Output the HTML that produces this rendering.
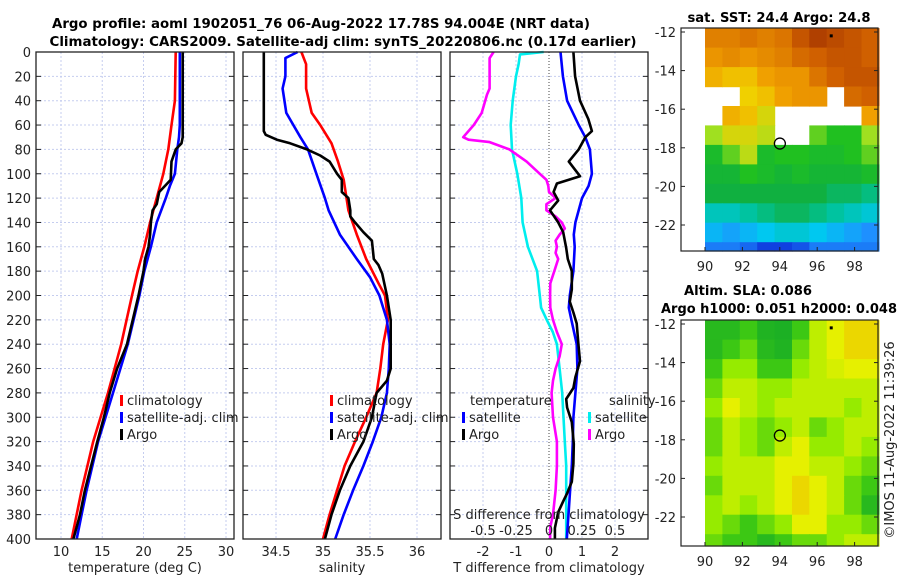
<!DOCTYPE html>
<html><head><meta charset="utf-8">
<style>
html,body{margin:0;padding:0;background:#fff;}
svg{display:block;font-family:"DejaVu Sans","Liberation Sans",sans-serif;}
</style></head>
<body>
<svg id="fig" width="900" height="580" viewBox="0 0 900 580" xmlns="http://www.w3.org/2000/svg">
<rect x="0" y="0" width="900" height="580" fill="#fff"/>
<text x="321" y="28" text-anchor="middle" font-size="13" font-weight="bold" fill="#000" textLength="538" lengthAdjust="spacingAndGlyphs">Argo profile: aoml 1902051_76 06-Aug-2022 17.78S 94.004E (NRT data)</text>
<text x="343" y="46" text-anchor="middle" font-size="13" font-weight="bold" fill="#000" textLength="587" lengthAdjust="spacingAndGlyphs">Climatology: CARS2009. Satellite-adj clim: synTS_20220806.nc (0.17d earlier)</text>
<text x="779" y="22" text-anchor="middle" font-size="13" font-weight="bold" fill="#000" textLength="183" lengthAdjust="spacingAndGlyphs">sat. SST: 24.4 Argo: 24.8</text>
<text x="748" y="295" text-anchor="middle" font-size="13" font-weight="bold" fill="#000" textLength="128" lengthAdjust="spacingAndGlyphs">Altim. SLA: 0.086</text>
<text x="779" y="313" text-anchor="middle" font-size="13" font-weight="bold" fill="#000" textLength="236" lengthAdjust="spacingAndGlyphs">Argo h1000: 0.051 h2000: 0.048</text>
<text x="0" y="0" transform="translate(894,440) rotate(-90)" text-anchor="middle" font-size="13" fill="#222">©IMOS 11-Aug-2022 11:39:26</text>
<g id="g"></g>
</svg>
<script>
// ---------- data ----------
const depthTicks = [0,20,40,60,80,100,120,140,160,180,200,220,240,260,280,300,320,340,360,380,400];
const tempTicks = [10,15,20,25,30];
const salTicks = [34.5,35,35.5,36];
const salTickLabels = ["34.5","35","35.5","36"];
const tdiffTicks = [-2,-1,0,1,2];
const sdiffTicks = [-0.5,-0.25,0,0.25,0.5];
const sdiffTickLabels = ["-0.5","-0.25","0","0.25","0.5"];

const tClimDepth = [0,40,60,80,100,120,140,160,180,200,240,280,320,360,400];
const tClimVal   = [23.9,23.8,23.4,23.0,22.4,21.6,20.8,20.1,19.3,18.6,17.3,15.7,13.9,12.5,11.3];
const tSatDepth  = [0,60,70,80,100,110,120,140,160,180,200,240,280,320,360,380,400];
const tSatVal    = [24.4,24.4,24.3,24.1,23.8,23.2,22.7,21.6,20.9,20.1,19.5,18.1,16.3,14.5,13.1,12.5,11.9];
const tArgoDepth = [0,70,75,80,90,105,110,115,125,130,140,150,160,170,180,200,240,260,280,300,320,360,380,400];
const tArgoVal   = [24.75,24.75,24.6,23.9,23.4,23.3,22.6,21.9,21.6,21.1,20.9,20.8,20.6,20.2,20.0,19.4,18.0,16.8,15.9,15.2,14.4,12.9,12.3,11.5];

const sClimDepth = [0,10,30,50,60,75,90,105,130,150,170,190,200,220,240,260,280,300,320,340,360,380,400];
const sClimVal   = [34.77,34.82,34.82,34.88,34.97,35.09,35.16,35.22,35.27,35.36,35.46,35.59,35.66,35.69,35.64,35.61,35.57,35.46,35.34,35.23,35.15,35.07,35.0];
const sSatDepth  = [0,5,20,30,50,70,80,100,120,130,150,170,185,200,220,240,260,280,300,320,340,360,380,400];
const sSatVal    = [34.73,34.6,34.6,34.57,34.61,34.76,34.84,34.93,35.02,35.06,35.18,35.36,35.5,35.6,35.68,35.71,35.7,35.68,35.62,35.53,35.43,35.32,35.22,35.13];
const sArgoDepth = [0,65,68,72,75,80,85,90,100,105,115,120,130,135,140,148,155,170,175,182,200,220,240,260,270,280,300,320,340,360,380,400];
const sArgoVal   = [34.37,34.37,34.39,34.51,34.65,34.83,34.97,35.07,35.15,35.2,35.2,35.27,35.29,35.29,35.34,35.43,35.52,35.54,35.59,35.63,35.68,35.72,35.72,35.72,35.68,35.57,35.52,35.43,35.29,35.18,35.09,35.02];

const dtSatDepth = [0,20,40,60,70,80,100,110,120,140,150,160,180,200,210,220,240,260,280,300,320,340,360,380,400];
const dtSatVal   = [0.35,0.42,0.55,0.9,1.1,1.24,1.3,1.2,1.0,0.8,0.75,0.78,0.74,0.63,0.6,0.68,0.84,0.86,0.8,0.74,0.72,0.69,0.64,0.59,0.54];
const dtArgoDepth = [0,20,40,55,65,70,80,90,102,108,115,122,130,140,148,161,170,180,195,205,214,223,240,254,267,276,285,292,304,322,338,353,363,369,378,391,400];
const dtArgoVal   = [0.74,0.79,0.94,1.19,1.3,1.1,0.9,0.6,0.94,0.24,0.14,0.28,0.03,0.28,0.43,0.52,0.57,0.69,0.69,0.63,0.74,0.84,0.89,0.94,0.8,0.74,0.52,0.55,0.69,0.75,0.74,0.69,0.54,0.43,0.28,0.18,0.18];
const dsSatDepth = [0,2,10,20,40,60,80,100,120,140,160,180,200,210,220,230,240,260,280,300,320,340,360,380,400];
const dsSatVal   = [-0.04,-0.22,-0.23,-0.25,-0.275,-0.29,-0.28,-0.24,-0.21,-0.2,-0.16,-0.09,-0.07,-0.06,-0.017,0.029,0.06,0.08,0.1,0.11,0.12,0.13,0.13,0.13,0.13];
const dsArgoDepth = [0,5,15,30,35,50,60,70,72,74,80,90,100,105,110,115,120,125,130,135,140,145,150,155,160,165,170,180,190,200,210,220,230,240,250,260,270,280,300,320,340,360,380,390,400];
const dsArgoVal   = [-0.42,-0.45,-0.45,-0.45,-0.47,-0.51,-0.57,-0.65,-0.61,-0.45,-0.3,-0.17,-0.07,-0.02,-0.005,0.0,0.05,-0.02,-0.02,0.05,0.097,0.12,0.08,0.05,0.06,0.05,0.07,0.04,0.01,0.008,0.01,0.03,0.06,0.097,0.08,0.05,0.03,0.02,0.03,0.06,0.06,0.05,0.03,0.01,0.008];

const mapLatTicks = [-12,-14,-16,-18,-20,-22];
const mapLonTicks = [90,92,94,96,98];
const argoLon = 94.004, argoLat = -17.78;
const sstGrid = [
 [25.2,25.2,25.3,25.2,25.3,25.6,25.8,25.7,25.6,25.5],
 [25.0,25.1,25.0,25.1,25.2,25.4,25.5,25.6,25.6,25.5],
 [24.8,24.7,24.7,24.9,25.0,25.0,25.3,25.5,25.6,25.6],
 [null,null,24.6,24.7,24.9,25.0,25.0,null,25.4,25.5],
 [null,24.8,24.7,24.5,null,null,null,null,null,24.9],
 [24.3,24.5,24.5,24.4,null,null,24.2,24.1,24.1,24.3],
 [24.0,24.2,24.4,24.0,24.1,24.1,24.0,24.0,24.1,24.2],
 [23.9,23.9,24.1,24.0,23.9,24.0,23.9,23.9,23.9,24.0],
 [23.8,23.8,23.8,23.8,23.8,23.8,23.8,23.7,23.7,23.6],
 [23.4,23.4,23.5,23.6,23.7,23.7,23.6,23.5,23.4,23.3],
 [23.1,23.0,23.1,23.2,23.3,23.3,23.2,23.1,23.0,22.9],
 [22.8,22.8,22.7,22.5,22.5,22.6,22.8,22.8,22.8,22.8]
];
const slaGrid = [
 [0.5,0.5,1,0.3,0.2,1,2.5,3,3.5,3.5],
 [0.5,1,1.5,0.5,0.3,1.5,2.5,3,3.5,3.5],
 [1,2,2,1,1,2,2.5,2.8,3,3],
 [1.5,2.5,2.5,2,2,2.5,2.5,2.5,2.5,2.5],
 [2,3,2.5,2,2.5,2.5,2.5,2.5,2,2.5],
 [1.5,2.5,2,1.5,2,2.5,1.5,2,2.5,2.5],
 [1.5,2.5,2,1.5,2.5,3,2,2,2.5,2],
 [2,2.5,2.5,2.5,3,3,2.5,2.5,2,1.5],
 [1.5,2.5,2.5,2.5,3,3.5,3,2.5,1.5,1],
 [2,2.5,2,2.5,3,3.5,3,2.5,1.5,0.5],
 [2,1.5,1,1.5,2,3,3,2,2,1.5],
 [1.5,1,1,0.5,1,1.5,1.5,2,2.5,2.5]
];

// ---------- helpers ----------
const NS = "http://www.w3.org/2000/svg";
const G = document.getElementById("g");
function mk(tag, attrs, name, parent) {
  const el = document.createElementNS(NS, tag);
  for (const k in attrs) el.setAttribute(k, attrs[k]);
  
  
  (parent || G).appendChild(el);
  return el;
}
function txt(x, y, s, name, opts) {
  const el = mk("text", Object.assign({x: x, y: y, "font-size": 13, fill: "#222"}, opts || {}), name);
  el.textContent = s;
  return el;
}
const Y0 = 52, Y1 = 539;
const yD = d => Y0 + d * (Y1 - Y0) / 400;
const xT = t => 61 + (t - 10) * 8.25;
const xS = s => 323 + (s - 35) * 94;
const xdT = v => 549 + v * 33;
const xdS = v => 549 + v * 132;
const panels = [[36,234],[243,441],[450,648]];

// gridlines
panels.forEach((p, i) => {
  depthTicks.forEach(d => {
    if (d === 0 || d === 400) return;
    mk("line", {x1:p[0], x2:p[1], y1:yD(d), y2:yD(d), stroke:"#c5cdef", "stroke-width":1, "stroke-dasharray":"2,2"}, "depth-gridline");
  });
});
tempTicks.forEach(t => mk("line", {x1:xT(t), x2:xT(t), y1:Y0, y2:Y1, stroke:"#c5cdef", "stroke-dasharray":"2,2"}, "temp-gridline"));
salTicks.forEach(s => mk("line", {x1:xS(s), x2:xS(s), y1:Y0, y2:Y1, stroke:"#c5cdef", "stroke-dasharray":"2,2"}, "sal-gridline"));
tdiffTicks.forEach(v => { if (v !== 0) mk("line", {x1:xdT(v), x2:xdT(v), y1:Y0, y2:Y1, stroke:"#c5cdef", "stroke-dasharray":"2,2"}, "tdiff-gridline"); });
mk("line", {x1:xdT(0), x2:xdT(0), y1:Y0, y2:Y1, stroke:"#444", "stroke-width":1, "stroke-dasharray":"1,2"}, "zero-line");

// ticks
panels.forEach((p, i) => {
  depthTicks.forEach(d => {
    mk("line", {x1:p[0], x2:p[0]+5, y1:yD(d), y2:yD(d), stroke:"#222"}, "depth-tick");
    mk("line", {x1:p[1]-5, x2:p[1], y1:yD(d), y2:yD(d), stroke:"#222"}, "depth-tick");
  });
});
depthTicks.forEach(d => txt(31, yD(d)+5, String(d), "depth-tick-label", {"text-anchor":"end"}));
tempTicks.forEach(t => txt(xT(t), 556, String(t), "temp-tick-label", {"text-anchor":"middle"}));
salTicks.forEach((s, i) => txt(xS(s), 556, salTickLabels[i], "sal-tick-label", {"text-anchor":"middle"}));
tdiffTicks.forEach(v => txt(xdT(v), 556, String(v), "tdiff-tick-label", {"text-anchor":"middle"}));
txt(135, 572, "temperature (deg C)", "temp-axis-title", {"text-anchor":"middle"});
txt(342, 572, "salinity", "sal-axis-title", {"text-anchor":"middle"});
txt(549, 572, "T difference from climatology", "tdiff-axis-title", {"text-anchor":"middle"});

function series(xs, ds, xf, color, name, w) {
  const pts = xs.map((v, i) => xf(v).toFixed(1) + "," + yD(ds[i]).toFixed(1)).join(" ");
  mk("polyline", {points: pts, fill:"none", stroke:color, "stroke-width": w || 2.6, "stroke-linejoin":"round"}, name);
}
series(tClimVal, tClimDepth, xT, "#ff0000", "temp-climatology-line");
series(tSatVal, tSatDepth, xT, "#0000ff", "temp-satellite-line");
series(tArgoVal, tArgoDepth, xT, "#000", "temp-argo-line");
series(sClimVal, sClimDepth, xS, "#ff0000", "sal-climatology-line");
series(sSatVal, sSatDepth, xS, "#0000ff", "sal-satellite-line");
series(sArgoVal, sArgoDepth, xS, "#000", "sal-argo-line");
series(dsSatVal, dsSatDepth, xdS, "#00eeee", "sdiff-satellite-line");
series(dsArgoVal, dsArgoDepth, xdS, "#ff00ff", "sdiff-argo-line");
series(dtSatVal, dtSatDepth, xdT, "#0000ff", "tdiff-satellite-line");
series(dtArgoVal, dtArgoDepth, xdT, "#000", "tdiff-argo-line");

sdiffTicks.forEach((v, i) => txt(xdS(v), 535, sdiffTickLabels[i], "sdiff-tick-label", {"text-anchor":"middle"}));
txt(549, 519, "S difference from climatology", "sdiff-axis-title", {"text-anchor":"middle"});

panels.forEach(p => mk("rect", {x:p[0], y:Y0, width:p[1]-p[0], height:Y1-Y0, fill:"none", stroke:"#222", "stroke-width":1.3}, "panel-frame"));

// legends
function legend(x, y, color, label, name) {
  mk("rect", {x:x, y:y-10, width:3, height:11, fill:color}, name + "-swatch");
  txt(x+7, y, label, name + "-label");
}
legend(120, 405, "#ff0000", "climatology", "legend-temp-climatology");
legend(120, 422, "#0000ff", "satellite-adj. clim", "legend-temp-satellite");
legend(120, 439, "#000", "Argo", "legend-temp-argo");
legend(330, 405, "#ff0000", "climatology", "legend-sal-climatology");
legend(330, 422, "#0000ff", "satellite-adj. clim", "legend-sal-satellite");
legend(330, 439, "#000", "Argo", "legend-sal-argo");
txt(470, 405, "temperature", "legend-diff-temperature-heading");
legend(462, 422, "#0000ff", "satellite", "legend-tdiff-satellite");
legend(462, 439, "#000", "Argo", "legend-tdiff-argo");
txt(609, 405, "salinity", "legend-diff-salinity-heading");
legend(588, 422, "#00eeee", "satellite", "legend-sdiff-satellite");
legend(588, 439, "#ff00ff", "Argo", "legend-sdiff-argo");

// ---------- maps ----------
function sstColor(v) {
  const stops = [[22.5,[16,64,224]],[22.9,[30,144,255]],[23.2,[0,200,240]],[23.5,[0,195,160]],[23.8,[16,176,64]],[24.1,[32,192,32]],[24.3,[160,224,32]],[24.6,[240,208,0]],[24.9,[240,160,0]],[25.2,[224,128,0]],[25.5,[208,96,0]],[25.8,[176,64,0]]];
  return interp(stops, v);
}
function slaColor(v) {
  const stops = [[0,[20,170,40]],[1,[60,200,20]],[2,[150,235,0]],[3,[230,240,0]],[4,[240,190,0]]];
  return interp(stops, v);
}
function interp(stops, v) {
  if (v <= stops[0][0]) return "rgb(" + stops[0][1].join(",") + ")";
  for (let i = 1; i < stops.length; i++) {
    if (v <= stops[i][0]) {
      const f = (v - stops[i-1][0]) / (stops[i][0] - stops[i-1][0]);
      const c = stops[i-1][1].map((a, k) => Math.round(a + f * (stops[i][1][k] - a)));
      return "rgb(" + c.join(",") + ")";
    }
  }
  return "rgb(" + stops[stops.length-1][1].join(",") + ")";
}
function drawMap(grid, colorFn, top, height, name) {
  const x0 = 681, x1 = 878, bottom = top + height;
  const lonX = lon => 705 + (lon - 90) * 18.7;
  const latY = lat => top + 4 + (-12 - lat) * 19.3;
  const cols = grid[0].length, rows = grid.length;
  const lonMin = 90, lonMax = 99.3, latTop = -11.8, latBot = -23.9;
  grid.forEach((row, r) => row.forEach((v, c) => {
    if (v === null) return;
    const xa = lonX(lonMin + c * (lonMax - lonMin) / cols), xb = lonX(lonMin + (c+1) * (lonMax - lonMin) / cols);
    const ya = Math.max(top, latY(latTop + r * (latBot - latTop) / rows)), yb = Math.min(bottom, latY(latTop + (r+1) * (latBot - latTop) / rows));
    mk("rect", {x:xa.toFixed(1), y:ya.toFixed(1), width:(xb-xa+0.6).toFixed(1), height:(yb-ya+0.6).toFixed(1), fill:colorFn(v)}, name + "-cell");
  }));
  mk("rect", {x:x0, y:top, width:x1-x0, height:bottom-top, fill:"none", stroke:"#222", "stroke-width":1.2}, name + "-frame");
  mapLatTicks.forEach(l => {
    mk("line", {x1:x0, x2:x0+4, y1:latY(l), y2:latY(l), stroke:"#222"}, name + "-lat-tick");
    mk("line", {x1:x1-4, x2:x1, y1:latY(l), y2:latY(l), stroke:"#222"}, name + "-lat-tick");
    txt(676, latY(l)+5, String(l), name + "-lat-label", {"text-anchor":"end"});
  });
  mapLonTicks.forEach(l => {
    mk("line", {x1:lonX(l), x2:lonX(l), y1:bottom-4, y2:bottom, stroke:"#222"}, name + "-lon-tick");
    txt(lonX(l), bottom + 20, String(l), name + "-lon-label", {"text-anchor":"middle"});
  });
  mk("circle", {cx:lonX(argoLon), cy:latY(argoLat), r:5.5, fill:"none", stroke:"#000", "stroke-width":1.3}, name + "-argo-location");
  mk("rect", {x:lonX(96.75)-1.5, y:latY(-12.2)-1.5, width:3, height:3, fill:"#000"}, name + "-marker");
}
drawMap(sstGrid, sstColor, 28, 223, "sst-map");
drawMap(slaGrid, slaColor, 320, 226, "sla-map");
</script>
</body></html>
